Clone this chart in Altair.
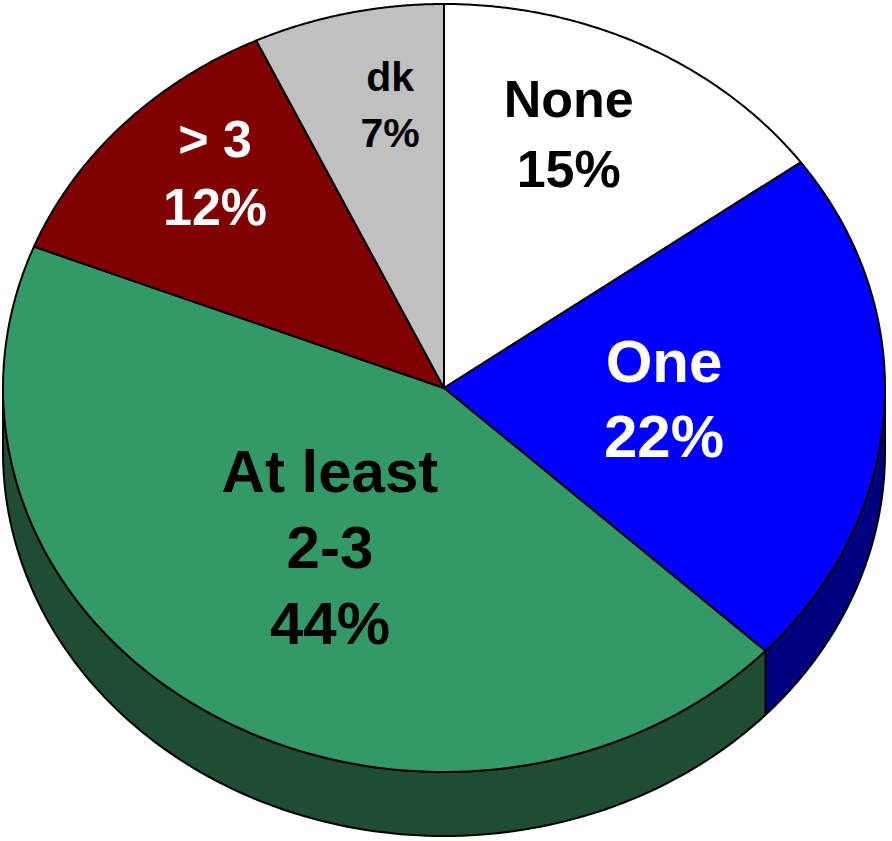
import altair as alt
import pandas as pd

# --- data -------------------------------------------------------------
CATEGORIES = ["None", "One", "At least 2-3", "> 3", "dk"]
LABELS = ["None", "One", "At least\n2-3", "> 3", "dk"]
SHARES = [15, 22, 44, 12, 7]

# --- styling ----------------------------------------------------------
TOP_COLORS = ["#FFFFFF", "#0000FF", "#339966", "#800000", "#C0C0C0"]
SIDE_COLORS = ["#808080", "#000080", "#1E4D34", "#400000", "#606060"]
TEXT_COLORS = ["black", "white", "black", "white", "black"]
FONT_SIZES = [52, 60, 60, 52, 41]
LINE_HEIGHTS = [70, 75, 76, 68, 56]
LABEL_R = [0.715, 0.50, 0.495, 0.76, 0.741]     # fraction of the radius
LABEL_TURN = [-3.7, 0.3, -0.9, 3.7, 3.1]          # degrees off the mid-angle

W, H = 892, 841
CX, CY = 444, 388          # centre of the top face
RX, RY = 441, 384          # half-axes of the tilted (elliptical) top face
DEPTH = 64                 # thickness of the pie in pixels
N = 120                    # points per arc

D = DEPTH / RY
FONT = "Liberation Sans"

# The unit circle is stretched into the tilted ellipse by the scales.
x_enc = alt.X("u:Q", axis=None,
              scale=alt.Scale(domain=[-CX / RX, (W - CX) / RX], nice=False, zero=False))
y_enc = alt.Y("v:Q", axis=None,
              scale=alt.Scale(domain=[-(H - CY) / RY, CY / RY], nice=False, zero=False))

df = pd.DataFrame({
    "cat": CATEGORIES,
    "label": LABELS,
    "share": SHARES,
    "order": list(range(len(CATEGORIES))),
})

# slice angles measured clockwise from 12 o'clock
base = alt.Chart(df).transform_window(
    cum="sum(share)", sort=[alt.SortField("order")]
).transform_joinaggregate(
    total="sum(share)"
).transform_calculate(
    a0="2 * PI * (datum.cum - datum.share) / datum.total",
    a1="2 * PI * datum.cum / datum.total",
)

# outer wall of the pie: only the front half (between 3 and 9 o'clock) is visible
sides = base.transform_calculate(
    s0="max(datum.a0, PI / 2)",
    s1="min(datum.a1, 3 * PI / 2)",
).transform_filter(
    "datum.s1 > datum.s0"
).transform_calculate(
    k=f"sequence(0, {2 * N + 3})"
).transform_flatten(
    ["k"]
).transform_calculate(
    j=f"datum.k <= {N} ? datum.k : (datum.k <= {2 * N + 1} ? {2 * N + 1} - datum.k : 0)",
    low=f"datum.k > {N} && datum.k <= {2 * N + 1}",
    ang=f"datum.s0 + (datum.s1 - datum.s0) * datum.j / {N}",
    u="sin(datum.ang)",
    v=f"cos(datum.ang) - (datum.low ? {D} : 0)",
).mark_line(
    stroke="black", strokeWidth=2, strokeJoin="round", interpolate="linear"
).encode(
    x=x_enc, y=y_enc,
    order=alt.Order("k:Q"),
    detail="cat:N",
    fill=alt.Fill("cat:N", legend=None,
                  scale=alt.Scale(domain=CATEGORIES, range=SIDE_COLORS)),
)

# top faces: hub -> arc -> hub
faces = base.transform_calculate(
    k=f"sequence(0, {N + 3})"
).transform_flatten(
    ["k"]
).transform_calculate(
    ang=f"datum.a0 + (datum.a1 - datum.a0) * clamp(datum.k - 1, 0, {N}) / {N}",
    hub=f"datum.k == 0 || datum.k == {N + 2}",
    u="datum.hub ? 0 : sin(datum.ang)",
    v="datum.hub ? 0 : cos(datum.ang)",
).mark_line(
    stroke="black", strokeWidth=2, strokeJoin="round", interpolate="linear"
).encode(
    x=x_enc, y=y_enc,
    order=alt.Order("k:Q"),
    detail="cat:N",
    fill=alt.Fill("cat:N", legend=None,
                  scale=alt.Scale(domain=CATEGORIES, range=TOP_COLORS)),
)

# slice labels: name and share, the text block centred on its anchor
label_layers = []
for i, cat in enumerate(CATEGORIES):
    n_lines = LABELS[i].count("\n") + 2
    lay = base.transform_filter(
        alt.datum.cat == cat
    ).transform_calculate(
        mid=f"(datum.a0 + datum.a1) / 2 + {LABEL_TURN[i]} * PI / 180",
        u=f"{LABEL_R[i]} * sin(datum.mid)",
        v=f"{LABEL_R[i]} * cos(datum.mid)",
        txt="datum.label + '\\n' + datum.share + '%'",
    ).mark_text(
        font=FONT, fontWeight="bold", fontSize=FONT_SIZES[i],
        lineHeight=LINE_HEIGHTS[i], lineBreak="\n",
        align="center", baseline="middle", color=TEXT_COLORS[i],
        dy=-(n_lines - 1) * LINE_HEIGHTS[i] / 2,
    ).encode(
        x=x_enc, y=y_enc, text="txt:N",
    )
    label_layers.append(lay)

chart = alt.layer(sides, faces, *label_layers).resolve_scale(
    fill="independent"
).properties(
    width=W, height=H, padding=0,
    autosize=alt.AutoSizeParams(type="none"),
).configure_view(stroke=None)

chart.save("out.html", embed_options={"renderer": "svg", "actions": False})
